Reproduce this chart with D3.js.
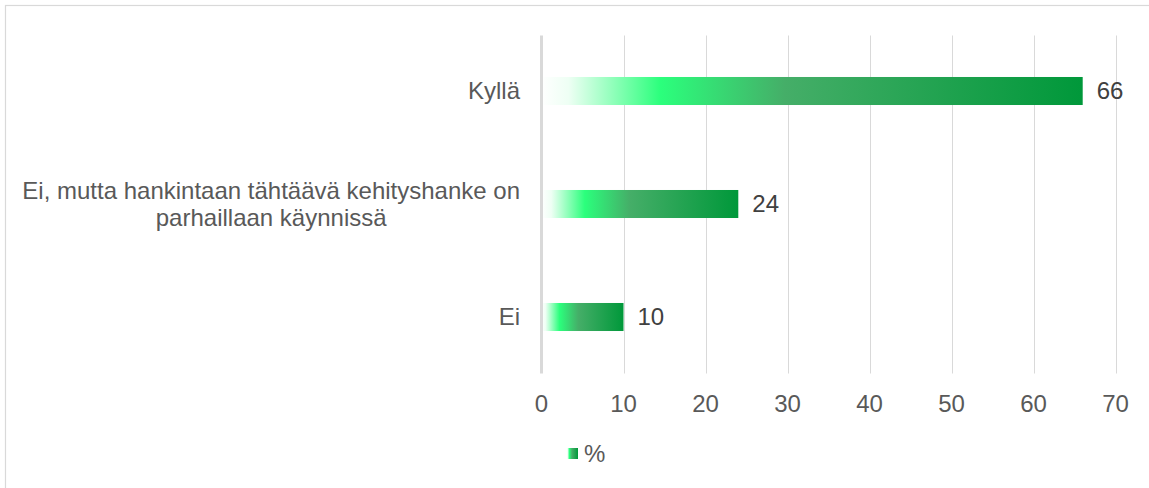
<!DOCTYPE html>
<html>
<head>
<meta charset="utf-8">
<script src="https://cdn.jsdelivr.net/npm/d3@7"></script>
<style>
  html, body { margin: 0; padding: 0; background: #fff; }
  svg { display: block; font-family: "Liberation Sans", Arial, sans-serif; }
</style>
</head>
<body>
<svg id="chart" width="1149" height="488"></svg>
<script>
const categories = ["Kyllä", "Ei, mutta hankintaan tähtäävä kehityshanke on parhaillaan käynnissä", "Ei"];
const categoryLines = [["Kyllä"], ["Ei, mutta hankintaan tähtäävä kehityshanke on", "parhaillaan käynnissä"], ["Ei"]];
const values = [66, 24, 10];
const xTicks = [0, 10, 20, 30, 40, 50, 60, 70];
const seriesName = "%";

const FS = "24px";
const svg = d3.select("#chart");
const W = 1149, H = 488;

// outer border
svg.append("rect").attr("x", 5.5).attr("y", 5.5).attr("width", W + 10).attr("height", H + 10)
  .attr("fill", "#fff").attr("stroke", "#d9d9d9").attr("stroke-width", 1.2);

const plot = { left: 541.5, right: 1115.5, top: 34.5, bottom: 373.5 };

const x = d3.scaleLinear().domain([0, 70]).range([plot.left, plot.right]);
const y = d3.scaleBand().domain(categories).range([plot.top, plot.bottom]).paddingInner(0.752).paddingOuter(0.376);

// gradient
const defs = svg.append("defs");
const grad = defs.append("linearGradient").attr("id", "barGrad")
  .attr("x1", "0%").attr("x2", "100%").attr("y1", "0%").attr("y2", "0%");
[[0, "#ffffff"], [0.05, "#eefff4"], [0.22, "#2bff7c"], [0.45, "#45ae68"], [1, "#00983a"]]
  .forEach(([o, c]) => grad.append("stop").attr("offset", o).attr("stop-color", c));

// gridlines
svg.append("g").selectAll("line").data(xTicks.slice(1)).join("line")
  .attr("x1", d => Math.round(x(d)) + 0.5).attr("x2", d => Math.round(x(d)) + 0.5)
  .attr("y1", plot.top + 1).attr("y2", plot.bottom)
  .attr("stroke", "#d9d9d9").attr("stroke-width", 1);

// bars
svg.append("g").selectAll("rect").data(values).join("rect")
  .attr("x", x(0))
  .attr("y", (d, i) => y(categories[i]))
  .attr("width", d => x(d) - x(0))
  .attr("height", y.bandwidth())
  .attr("fill", "url(#barGrad)");

// zero axis line
svg.append("line").attr("x1", x(0)).attr("x2", x(0)).attr("y1", plot.top + 1).attr("y2", plot.bottom)
  .attr("stroke", "#d9d9d9").attr("stroke-width", 3);

// value labels
svg.append("g").selectAll("text").data(values).join("text")
  .attr("x", d => x(d) + 14)
  .attr("y", (d, i) => y(categories[i]) + y.bandwidth() / 2)
  .attr("dy", "0.35em")
  .attr("font-size", FS).attr("fill", "#404040")
  .text(d => d);

// x tick labels
svg.append("g").selectAll("text").data(xTicks).join("text")
  .attr("x", d => x(d))
  .attr("y", 412)
  .attr("text-anchor", "middle")
  .attr("font-size", FS).attr("fill", "#595959")
  .text(d => d);

// category labels
const lineH = 27;
categories.forEach((c, i) => {
  const lines = categoryLines[i];
  const cy = y(c) + y.bandwidth() / 2;
  if (lines.length === 1) {
    svg.append("text").attr("font-size", FS).attr("fill", "#595959")
      .attr("x", 520).attr("y", cy).attr("dy", "0.35em").attr("text-anchor", "end").text(lines[0]);
  } else {
    const tmp = svg.append("text").attr("font-size", FS).text(lines[0]);
    const wMax = d3.max(lines, l => { tmp.text(l); return tmp.node().getComputedTextLength(); });
    tmp.remove();
    const cx = 520 - wMax / 2;
    const y0 = cy - (lines.length - 1) * lineH / 2;
    lines.forEach((l, j) => {
      svg.append("text").attr("font-size", FS).attr("fill", "#595959")
        .attr("x", cx).attr("y", y0 + j * lineH).attr("dy", "0.35em")
        .attr("text-anchor", "middle").text(l);
    });
  }
});

// legend
svg.append("rect").attr("x", 567).attr("y", 448).attr("width", 11).attr("height", 11)
  .attr("fill", "url(#barGrad)");
svg.append("text").attr("x", 584).attr("y", 453.5).attr("dy", "0.35em")
  .attr("font-size", FS).attr("fill", "#595959").text(seriesName);
</script>
</body>
</html>
